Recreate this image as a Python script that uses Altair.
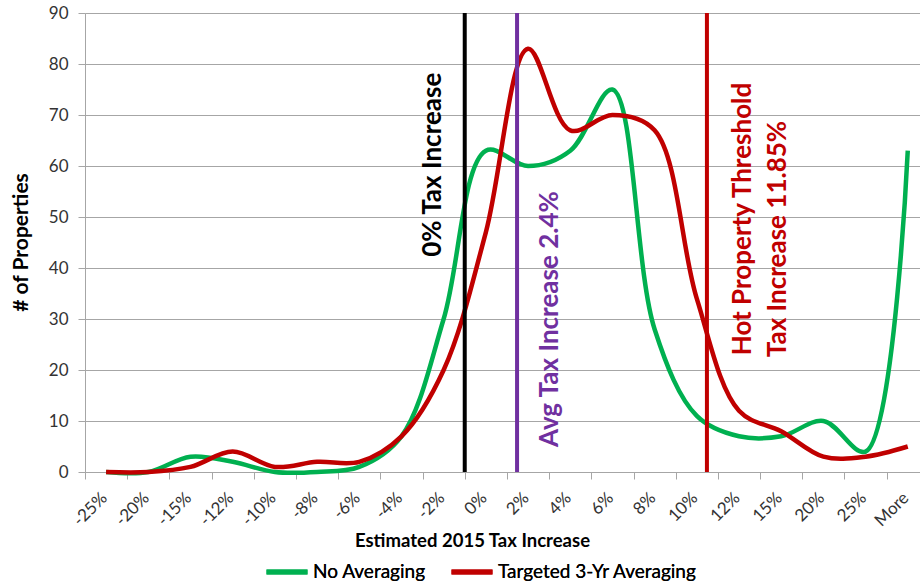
import altair as alt
import pandas as pd

categories = ["-25%", "-20%", "-15%", "-12%", "-10%", "-8%", "-6%", "-4%", "-2%", "0%",
              "2%", "4%", "6%", "8%", "10%", "12%", "15%", "20%", "25%", "More"]
no_averaging = [0, 0, 3, 2, 0, 0, 1, 7, 30, 63, 60, 63, 75, 28, 11, 7, 7, 10, 4, 63]
targeted = [0, 0, 1, 4, 1, 2, 2, 7, 20, 47, 83, 67, 70, 67, 34, 12, 8, 3, 3, 5]

series_names = ["No Averaging", "Targeted 3-Yr Averaging"]
series_colors = ["#00B050", "#C00000"]

# reference lines (position on the category axis, in category-index units)
marker_pos = [8.5, 9.74, 14.24]
marker_colors = ["#000000", "#7030A0", "#C00000"]

annot_text = ["0% Tax Increase", "Avg Tax Increase 2.4%", "Hot Property Threshold", "Tax Increase 11.85%"]
annot_x = [7.75, 10.52, 15.09, 15.92]
annot_y = [42.2, 4.9, 22.9, 22.5]
annot_colors = ["#000000", "#7030A0", "#C00000", "#C00000"]

rows = []
for name, vals in zip(series_names, [no_averaging, targeted]):
    for i, v in enumerate(vals):
        rows.append({"idx": i, "value": v, "series": name})
lines_df = pd.DataFrame(rows)
marker_df = pd.DataFrame({"pos": marker_pos, "c": marker_colors})
annot_df = pd.DataFrame({"x": annot_x, "y": annot_y, "t": annot_text, "c": annot_colors})

FONT = "Lato"
GRID = "#a6a6a6"
TXT = "#333333"

xscale = alt.Scale(domain=[-0.5, 19.29], nice=False, zero=False)
yscale = alt.Scale(domain=[0, 90], nice=False)

label_js = "[" + ",".join("'" + c + "'" for c in categories) + "]"

xaxis = alt.Axis(
    values=[i - 0.5 for i in range(len(categories))],
    labelExpr=label_js + "[round(datum.value + 0.5)]",
    labelAngle=-45, labelAlign="right", labelBaseline="middle",
    labelOffset=19, labelPadding=16, labelOverlap=False, labelBound=False,
    labelFont=FONT, labelFontSize=17, labelColor=TXT,
    tickSize=7, tickColor=GRID, domainColor=GRID, grid=False,
    title="Estimated 2015 Tax Increase", titleFont=FONT, titleFontSize=18.5,
    titleFontWeight="bold", titleColor="#000000",
    titleX=387, titleY=68, titleAlign="center", titleBaseline="middle", titleAnchor="start",
)
yaxis = alt.Axis(
    values=list(range(0, 91, 10)), grid=True, gridColor=GRID, gridWidth=1,
    tickSize=7, tickColor=GRID, domainColor=GRID,
    labelFont=FONT, labelFontSize=17, labelColor=TXT, labelPadding=10,
    title="# of Properties", titleFont=FONT, titleFontSize=21, titleFontWeight="bold",
    titleColor="#000000", titleAngle=270, titleX=-64, titleY=229,
    titleAlign="center", titleBaseline="middle",
)

color = alt.Color(
    "series:N",
    scale=alt.Scale(domain=series_names, range=series_colors),
    legend=alt.Legend(
        orient="none", legendX=179, legendY=536, direction="horizontal", title=None,
        symbolType="stroke", symbolSize=1681, symbolStrokeWidth=5,
        labelFont=FONT, labelFontSize=19, labelColor="#000000", labelLimit=400,
        columnPadding=15, labelOffset=3,
    ),
)

base = alt.Chart(lines_df)
green = base.transform_filter(alt.datum.series == series_names[0]).mark_line(
    interpolate="catmull-rom", strokeWidth=4.5
).encode(
    x=alt.X("idx:Q", scale=xscale, axis=xaxis),
    y=alt.Y("value:Q", scale=yscale, axis=yaxis),
    color=color,
)
red = base.transform_filter(alt.datum.series == series_names[1]).mark_line(
    interpolate="catmull-rom", strokeWidth=4.5
).encode(
    x=alt.X("idx:Q", scale=xscale),
    y=alt.Y("value:Q", scale=yscale),
    color=color,
)

rules = alt.Chart(marker_df).mark_rule(strokeWidth=4).encode(
    x=alt.X("pos:Q", scale=xscale),
    y=alt.datum(90),
    y2=alt.datum(0),
    color=alt.Color("c:N", scale=None, legend=None),
)

texts = alt.Chart(annot_df).mark_text(
    angle=270, align="left", baseline="middle", font=FONT, fontWeight="bold", fontSize=26
).encode(
    x=alt.X("x:Q", scale=xscale),
    y=alt.Y("y:Q", scale=yscale),
    text="t:N",
    color=alt.Color("c:N", scale=None, legend=None),
)

chart = alt.layer(green, red, rules, texts).resolve_scale(color="independent").properties(
    width=835, height=459,
    autosize=alt.AutoSizeParams(type="none"),
    padding={"left": 85, "top": 13, "right": 0, "bottom": 111},
).configure_view(stroke=None).configure(background="white")

chart.save("out.html", embed_options={"renderer": "svg", "actions": False})
